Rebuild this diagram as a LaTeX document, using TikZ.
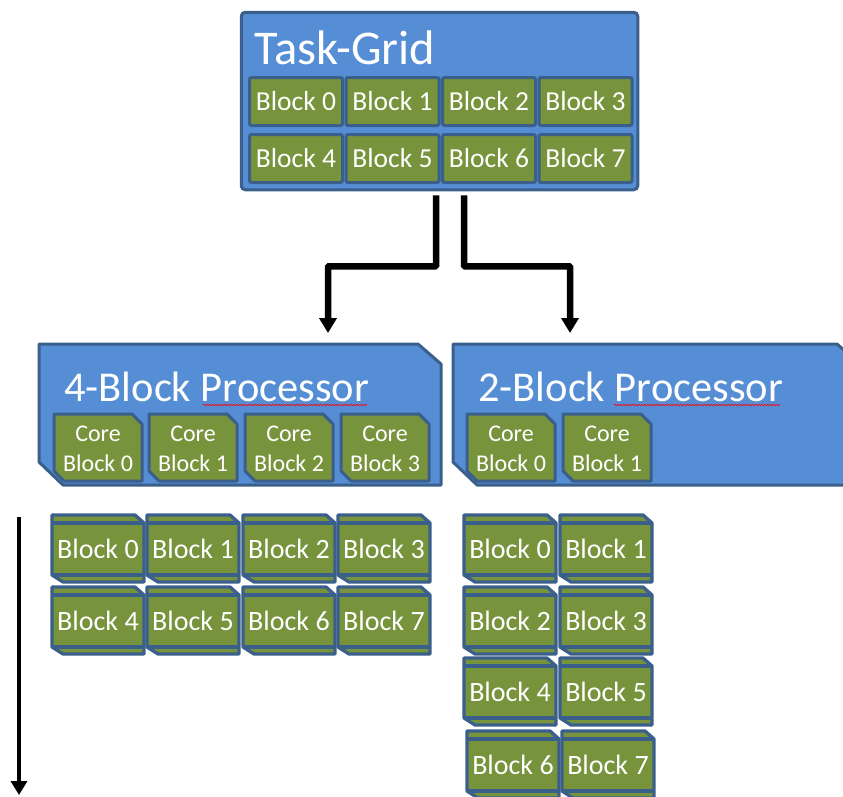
\documentclass[tikz,border=0pt]{standalone}
\usepackage{fontspec}
\setmainfont{Carlito}
\usetikzlibrary{arrows.meta,decorations.pathmorphing}

\definecolor{boxblue}{HTML}{558ED5}
\definecolor{edgeblue}{HTML}{3A5F8B}
\definecolor{blockgreen}{HTML}{77933C}

\tikzset{
  gridbox/.style={draw=edgeblue, fill=boxblue, line width=3pt, rounded corners=4pt, inner sep=0pt},
  gridcell/.style={draw=edgeblue, fill=blockgreen, line width=3pt, rounded corners=2pt,
    minimum width=93pt, minimum height=48pt, inner sep=0pt, text=white,
    font=\fontsize{27.5}{30}\selectfont},
  procbox/.style={draw=edgeblue, fill=boxblue, line width=3pt, line join=round},
  proctitle/.style={anchor=base west, inner sep=0pt, text=white, font=\fontsize{42.5}{45}\selectfont},
  corebox/.style={draw=edgeblue, fill=blockgreen, line width=3pt, line join=round},
  coretext/.style={inner sep=0pt, text=white, align=center, font=\fontsize{24}{30}\selectfont},
  slabline/.style={draw=edgeblue, line width=3.3pt, line join=round},
  slabtext/.style={inner sep=0pt, text=white, font=\fontsize{28}{30}\selectfont},
  flow/.style={line width=6.5pt, -{Triangle[width=17pt,length=15pt]}, rounded corners=1pt},
  spell/.style={red, line width=0.6pt, decorate, decoration={snake, amplitude=0.8pt, segment length=3pt}}
}

% core block with snipped top-right and bottom-left corners
\newcommand\coreblk[3]{% name, centre x, label
  \path[corebox] (#2-44,414) -- (#2+34,414) -- (#2+44,424) -- (#2+44,481)
     -- (#2-34,481) -- (#2-44,471) -- cycle;
  \node[coretext] (#1) at (#2,449) {Core\\Block #3};
}

% block drawn as a thin slab seen slightly from above
\newcommand\stackblk[4]{% name, left x, top y, label
  \path[slabline, fill=blockgreen] (#2,#3) -- ++(83,0) -- ++(9,8) -- ++(0,59)
     -- ++(-81,0) -- ++(-11,-7) -- cycle;
  \draw[slabline] (#2,#3+8) -- ++(92,0) (#2,#3+60) -- ++(92,0);
  \node[slabtext] (#1) at (#2+46,#3+34) {#4};
}

\begin{document}
\begin{tikzpicture}[x=1pt,y=-1pt]
\useasboundingbox (0,0) rectangle (843,796);
\begin{scope}
\clip (0,0) rectangle (843,796);

% ---- task grid ----
\node[gridbox, minimum width=396.5pt, minimum height=177.5pt] (taskgrid) at (439.5,101) {};
\node[anchor=base west, inner sep=0pt, text=white, font=\fontsize{48.5}{50}\selectfont]
  (tgtitle) at (254,64) {Task-Grid};
\foreach \i/\x in {0/296,1/392.5,2/489,3/585.5}{
  \node[gridcell] (g\i) at (\x,101.5) {Block \i};
}
\foreach \i/\x in {4/296,5/392.5,6/489,7/585.5}{
  \node[gridcell] (g\i) at (\x,158.5) {Block \i};
}

% ---- processors ----
\path[procbox] (39,344) -- (418,344) -- (441,364) -- (441,485) -- (63,485) -- (39,462) -- cycle;
\path[procbox] (453,344) -- (837,344) -- (860,364) -- (860,485) -- (477,485) -- (453,462) -- cycle;
\coordinate (proc4) at (328,344);
\coordinate (proc2) at (570,344);

\node[proctitle] (title4) at (64,401) {4-Block Processor};
\node[proctitle] (title2) at (478,401) {2-Block Processor};
\draw[spell] (203,405) -- (367,405);
\draw[spell] (614,405) -- (780,405);

\coreblk{c40}{98}{0}
\coreblk{c41}{193}{1}
\coreblk{c42}{289}{2}
\coreblk{c43}{385}{3}
\coreblk{c20}{511}{0}
\coreblk{c21}{607}{1}

% ---- scheduled blocks ----
\stackblk{a0}{52}{515}{Block 0}
\stackblk{a1}{147}{515}{Block 1}
\stackblk{a2}{243}{515}{Block 2}
\stackblk{a3}{338}{515}{Block 3}
\stackblk{a4}{52}{587}{Block 4}
\stackblk{a5}{147}{587}{Block 5}
\stackblk{a6}{243}{587}{Block 6}
\stackblk{a7}{338}{587}{Block 7}

\stackblk{b0}{464}{515}{Block 0}
\stackblk{b1}{560}{515}{Block 1}
\stackblk{b2}{464}{587}{Block 2}
\stackblk{b3}{560}{587}{Block 3}
\stackblk{b4}{464}{658}{Block 4}
\stackblk{b5}{560}{658}{Block 5}
\stackblk{b6}{467}{731}{Block 6}
\stackblk{b7}{562}{731}{Block 7}

% ---- connectors ----
\draw[flow] ([xshift=-3.5pt,yshift=-4pt]taskgrid.south) -- ++(0,71) -| ([yshift=11pt]proc4);
\draw[flow] ([xshift=24.5pt,yshift=-4pt]taskgrid.south) -- ++(0,71) -| ([yshift=11pt]proc2);

% time axis
\coordinate (tstart) at (19,517);
\coordinate (tend) at (19,795);
\draw[line width=4.5pt, -{Triangle[width=16pt,length=14pt]}] (tstart) -- (tend);
\end{scope}
\end{tikzpicture}
\end{document}
